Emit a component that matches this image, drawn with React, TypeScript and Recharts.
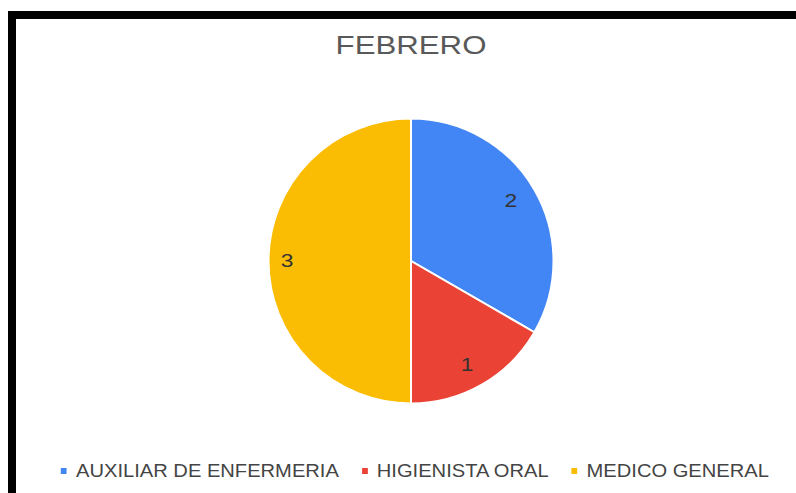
import { PieChart, Pie, Cell, Legend } from 'recharts'

const TITLE = 'FEBRERO'
const CATEGORIES = ['AUXILIAR DE ENFERMERIA', 'HIGIENISTA ORAL', 'MEDICO GENERAL']
const VALUES = [2, 1, 3]
const COLORS = ['#4285F4', '#EA4335', '#FBBC04']

const FONT = '"Liberation Sans", Arial, sans-serif'
const STRETCH = 1.15

const data = CATEGORIES.map((name, i) => ({ name, value: VALUES[i] }))

const RADIAN = Math.PI / 180

// value labels sit inside the slices, a bit in from the rim
function renderLabel(props: any) {
  const { cx, cy, midAngle, value } = props
  const r = 120
  const x = cx + r * Math.cos(-midAngle * RADIAN) - 4
  const y = cy + r * Math.sin(-midAngle * RADIAN) - 1
  return (
    <text
      transform={`translate(${x},${y}) scale(1.2,1)`}
      textAnchor="middle"
      dominantBaseline="central"
      fontFamily={FONT}
      fontSize={19}
      fill="#333333"
    >
      {value}
    </text>
  )
}

function LegendContent(props: any) {
  const payload = props.payload ?? []
  return (
    <div
      style={{
        display: 'flex',
        justifyContent: 'center',
        alignItems: 'center',
        transform: `translateX(9px) scaleX(${STRETCH})`,
        transformOrigin: 'center',
        fontFamily: FONT,
        fontSize: 17.5,
        color: '#444444',
        lineHeight: '20px',
      }}
    >
      {payload.map((p: any, i: number) => (
        <div key={i} style={{ display: 'flex', alignItems: 'center', marginRight: i < payload.length - 1 ? 20 : 0 }}>
          <span style={{ display: 'inline-block', width: 5.2, height: 6, background: p.color, marginRight: 7.8 }} />
          <span>{p.value}</span>
        </div>
      ))}
    </div>
  )
}

export default function App() {
  return (
    <div
      style={{
        position: 'absolute',
        left: 8,
        top: 11,
        boxSizing: 'border-box',
        width: 788,
        height: 482,
        borderTop: '8px solid #000',
        borderLeft: '8px solid #000',
        background: '#fff',
        overflow: 'hidden',
      }}
    >
      <div
        style={{
          position: 'absolute',
          top: 13,
          left: 0,
          width: 780,
          textAlign: 'center',
          fontFamily: FONT,
          fontSize: 26,
          lineHeight: '26px',
          color: '#595959',
          transform: 'translateX(5px) scaleX(1.2)',
          transformOrigin: 'center',
        }}
      >
        {TITLE}
      </div>
      <PieChart width={780} height={474}>
        <Pie
          data={data}
          dataKey="value"
          nameKey="name"
          cx={390}
          cy={237}
          outerRadius={142.5}
          startAngle={90}
          endAngle={-270}
          stroke="#ffffff"
          strokeWidth={2}
          label={renderLabel}
          labelLine={false}
          isAnimationActive={false}
        >
          {data.map((d, i) => (
            <Cell key={d.name} fill={COLORS[i]} />
          ))}
        </Pie>
        <Legend
          content={<LegendContent />}
          wrapperStyle={{ position: 'absolute', top: 442, left: 0, width: 780 }}
        />
      </PieChart>
    </div>
  )
}
